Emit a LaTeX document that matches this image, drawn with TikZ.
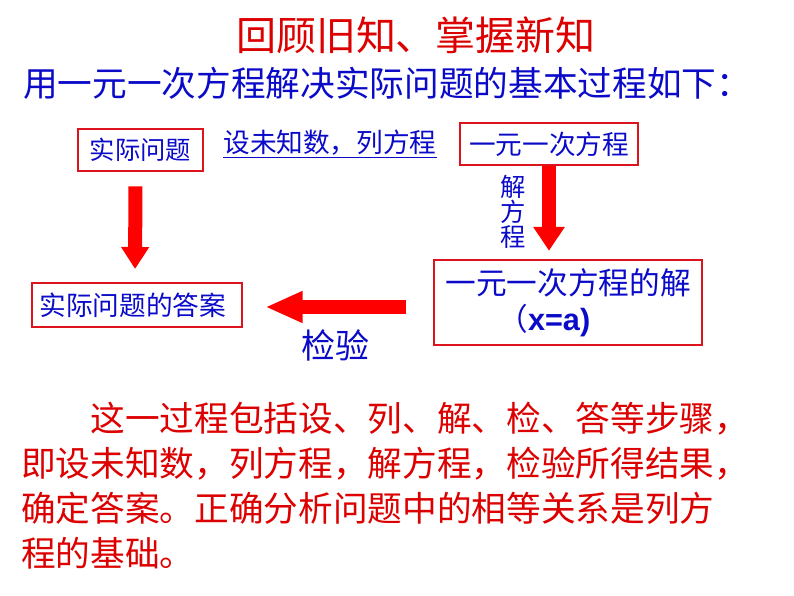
\documentclass[tikz,border=0pt]{standalone}
\usepackage{fontspec}
\setmainfont{Liberation Sans}
\newfontfamily\cjk{Noto Sans CJK SC}
\usetikzlibrary{arrows.meta}

\definecolor{titlered}{RGB}{220,0,0}
\definecolor{textblue}{RGB}{10,10,200}
\definecolor{boxred}{RGB}{220,20,30}
\definecolor{arrowred}{RGB}{255,0,0}

\tikzset{
  stepbox/.style={draw=boxred, line width=1.5pt, text=textblue, inner sep=0pt},
  bigarrow/.style={draw=arrowred, line width=11pt},
  bluelabel/.style={text=textblue, inner sep=0pt}
}

\begin{document}
\begin{tikzpicture}[x=0.75pt,y=-0.75pt]
    \useasboundingbox (0,0) rectangle (794,596);

    % Headings
    \node (title) [text=titlered, font=\cjk\fontsize{30}{34}\selectfont] at (416,35) {回顾旧知、掌握新知};
    \node (intro) [bluelabel, anchor=west, font=\cjk\fontsize{26}{30}\selectfont] at (23,83)
      {用一元一次方程解决实际问题的基本过程如下：};

    % The four boxes
    \node (problem) [stepbox, minimum width=94pt, minimum height=32pt,
      font=\cjk\fontsize{19}{22}\selectfont] at (140.5,150) {实际问题};
    \node (equation) [stepbox, minimum width=133.5pt, minimum height=31.5pt,
      font=\cjk\fontsize{20}{24}\selectfont] at (549,144) {一元一次方程};
    \node (solution) [stepbox, minimum width=201pt, minimum height=64pt, align=left,
      font=\cjk\fontsize{23}{27}\selectfont] at (568,302.5)
      {一元一次方程的解\\\hspace*{39pt}（{\rmfamily\bfseries x=a)}};
    \node (answer) [stepbox, minimum width=157pt, minimum height=33pt,
      font=\cjk\fontsize{20}{24}\selectfont] at (137,305) {\hspace*{-6pt}实际问题的答案};

    % Step labels
    \node (setup) [bluelabel, font=\cjk\fontsize{20}{24}\selectfont] at (330,144) {\underline{设未知数，列方程}};
    \node (solve) [bluelabel, align=center, font=\cjk\fontsize{19}{19}\selectfont] at (513,212) {解\\方\\程};
    \node (check) [bluelabel, font=\cjk\fontsize{25.5}{30}\selectfont] at (335,345) {检验};

    % Arrows
    \draw [bigarrow, line width=10.5pt, -{Triangle[width=20pt,length=16.5pt]},
      shorten <=10.5pt, shorten >=9.75pt]
      ([shift={(-5,0)}]problem.south) -- ([shift={(-2,0)}]answer.north);
    \draw [bigarrow, -{Triangle[width=22.5pt,length=18pt]}, shorten >=6pt]
      (equation.south) -- (equation.south |- solution.north);
    \coordinate (checkline) at (0,307);
    \draw [bigarrow, -{Triangle[width=22pt,length=28pt]}, shorten <=20pt, shorten >=17pt]
      (solution.west |- checkline) -- (answer.east |- checkline);

    % Summary
    \node (summary) [text=titlered, anchor=west, align=left, inner sep=0pt,
      font=\cjk\fontsize{26}{33.75}\selectfont] at (21,485.5)
      {\hspace*{2em}这一过程包括设、列、解、检、答等步骤，\\
       即设未知数，列方程，解方程，检验所得结果，\\
       确定答案。正确分析问题中的相等关系是列方\\
       程的基础。};
\end{tikzpicture}
\end{document}
